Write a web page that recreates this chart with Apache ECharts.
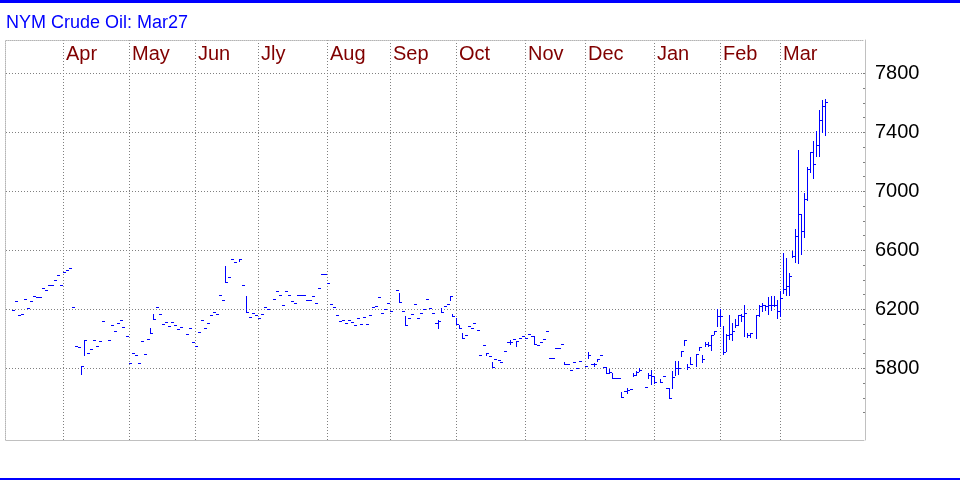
<!DOCTYPE html>
<html><head><meta charset="utf-8">
<script src="https://cdn.jsdelivr.net/npm/echarts@6.0.0/dist/echarts.min.js"></script>
<style>html,body{margin:0;padding:0;background:#fff;}#chart{width:960px;height:480px;}</style>
</head><body><div id="chart"></div>
<script>
const TITLE = 'NYM Crude Oil: Mar27';
const MONTHS = ['Jan','Feb','Mar','Apr','May','Jun','Jly','Aug','Sep','Oct','Nov','Dec'];
const AXIS_START = '2025-03-04', AXIS_END = '2026-04-08';
const FIRST_BAR = '2025-03-06', LAST_BAR = '2026-03-20';
const HOLIDAYS = ['2025-04-18','2025-05-26','2025-06-19','2025-07-04','2025-09-01','2025-11-27','2025-12-25','2026-01-01','2026-01-19','2026-02-16'];
const gridValues = [5800,6200,6600,7000,7400,7800];
const tickValues = [5500,5600,5700,5800,5900,6000,6100,6200,6300,6400,6500,6600,6700,6800,6900,7000,7100,7200,7300,7400,7500,7600,7700,7800];

const high = [
6193,6254,6159,6166,6268,6207,6254,6288,6281,6281,6342,6329,6363,6363,6397,6431,6363,6451,
6464,6478,6214,5949,5942,5814,5992,5902,5929,5992,5949,5983,6119,5990,6092,6051,6105,6125,6078,6017,5834,
5902,5888,5834,5983,5895,5997,6068,6168,6214,6166,6098,6112,6085,6112,6092,6064,6078,6031,6071,5976,5949,
6044,6125,6071,6105,6159,6180,6166,6295,6261,6494,6417,6539,6519,6539,6363,6290,6146,6173,6159,6139,
6166,6214,6200,6268,6322,6295,6227,6322,6295,6254,6241,6295,6295,6295,6261,6261,6288,6241,6342,6437,6437,6376,
6234,6214,6159,6119,6125,6105,6125,6112,6092,6139,6098,6146,6098,6159,6214,6220,6281,6173,6200,6241,6186,
6328,6308,6186,6152,6139,6166,6234,6139,6173,6200,6268,6206,6173,6105,6123,6206,6220,6234,6288,6166,6139,
6093,6037,6023,6084,6071,6105,6057,5888,5956,5901,5881,5840,5861,5854,5840,5915,5976,5992,5996,5981,6003,6014,6003,
6030,6019,6019,5958,5976,5999,6051,5868,5868,5935,5935,5962,5840,5827,5786,5840,5800,5847,5813,
5908,5827,5834,5861,5888,5806,5806,5790,5766,5732,5732,5637,5644,5664,5658,5766,5780,5800,5671,5766,5789,5745,
5725,5748,5664,5664,5777,5848,5848,5916,5990,5829,5874,5896,5943,5890,5976,5976,6026,6053,6202,6200,
6085,6031,6160,6108,6132,6162,6166,6229,6037,6037,6161,6229,6240,6229,6281,6286,6286,6260,6319,
6579,6545,6444,6591,6744,7280,6844,6986,7162,7262,7336,7404,7551,7619,7626
];
const low = [
6193,6254,6159,6166,6268,6207,6254,6288,6281,6281,6342,6329,6363,6363,6397,6431,6363,6451,
6464,6478,6214,5949,5942,5757,5885,5902,5929,5992,5949,5983,6119,5990,6092,6051,6105,6125,6078,6017,5834,
5902,5888,5834,5983,5895,5997,6034,6132,6214,6166,6098,6112,6085,6112,6092,6064,6078,6031,6071,5976,5949,
6044,6125,6071,6105,6159,6180,6166,6295,6261,6380,6417,6539,6519,6525,6363,6180,6146,6173,6159,6139,
6166,6214,6200,6268,6322,6295,6227,6322,6295,6254,6241,6295,6295,6295,6261,6261,6288,6241,6342,6437,6437,6376,
6234,6214,6159,6119,6125,6105,6125,6112,6092,6139,6098,6146,6098,6159,6214,6220,6281,6173,6200,6241,6186,
6328,6247,6186,6091,6139,6166,6234,6139,6173,6200,6268,6206,6173,6105,6069,6179,6220,6234,6258,6152,6098,
6071,6003,6023,6084,6071,6105,6057,5888,5956,5888,5881,5806,5861,5854,5840,5915,5976,5965,5996,5951,6003,6014,6003,
6030,6019,5963,5958,5976,5999,6051,5868,5868,5935,5935,5962,5827,5827,5786,5840,5800,5847,5813,
5868,5827,5813,5848,5888,5806,5766,5766,5732,5732,5732,5603,5644,5628,5658,5743,5755,5780,5671,5735,5692,5700,
5705,5748,5664,5596,5664,5753,5760,5879,5959,5793,5827,5810,5925,5838,5946,5946,5924,6030,6082,6085,
5896,5914,5995,5991,6078,6090,6116,6015,6008,6010,6003,6150,6184,6195,6166,6195,6218,6139,6150,
6308,6297,6297,6552,6516,6512,6575,6688,6941,7126,7088,7235,7235,7398,7377
];
const close = [
6193,6254,6159,6166,6268,6207,6254,6288,6281,6281,6342,6329,6363,6363,6397,6431,6363,6451,
6464,6478,6214,5949,5942,5814,5992,5902,5929,5992,5949,5983,6119,5990,6092,6051,6105,6125,6078,6017,5834,
5902,5888,5834,5983,5895,5997,6034,6132,6214,6166,6098,6112,6085,6112,6092,6064,6078,6031,6071,5976,5949,
6044,6125,6071,6105,6159,6180,6166,6295,6261,6380,6417,6539,6519,6539,6363,6180,6146,6173,6159,6139,
6166,6214,6200,6268,6322,6295,6227,6322,6295,6254,6241,6295,6295,6295,6261,6261,6288,6241,6342,6437,6437,6376,
6234,6214,6159,6119,6125,6105,6125,6112,6092,6139,6098,6146,6098,6159,6214,6220,6281,6173,6200,6241,6186,
6328,6247,6186,6091,6139,6166,6234,6139,6173,6200,6268,6206,6173,6105,6118,6179,6220,6234,6288,6152,6098,
6071,6003,6023,6084,6071,6105,6057,5888,5956,5901,5881,5806,5861,5854,5840,5915,5976,5976,5996,5981,6003,6014,6003,
6030,6019,5963,5958,5976,5999,6051,5868,5868,5935,5935,5962,5827,5827,5786,5840,5800,5847,5813,
5888,5827,5827,5861,5888,5806,5766,5775,5732,5732,5732,5603,5644,5650,5658,5750,5773,5786,5671,5750,5745,5705,
5705,5748,5664,5596,5738,5800,5800,5916,5990,5805,5827,5896,5943,5862,5960,5955,6026,6053,6154,6154,
5907,6025,6030,6048,6090,6158,6150,6173,6021,6035,6161,6222,6225,6222,6224,6229,6229,6184,6274,
6335,6358,6426,6557,6697,6844,6726,6946,7149,7262,7183,7312,7483,7578,7603
];

function iso(d){ return d.toISOString().slice(0,10); }
function weekdays(a, b){
  const out = []; let d = new Date(a + 'T00:00:00Z'); const e = new Date(b + 'T00:00:00Z');
  while (d <= e) { const w = d.getUTCDay(); if (w !== 0 && w !== 6) out.push(iso(d)); d = new Date(d.getTime() + 86400000); }
  return out;
}
const categories = weekdays(AXIS_START, AXIS_END);
const N = categories.length;
const tradeDays = weekdays(FIRST_BAR, LAST_BAR).filter(d => HOLIDAYS.indexOf(d) < 0);
const catIndex = {}; categories.forEach((d, i) => { catIndex[d] = i; });
const bars = tradeDays.map((d, i) => [catIndex[d], high[i], low[i], close[i]]);

function isMonthStart(i){ return i > 0 && categories[i].slice(0,7) !== categories[i-1].slice(0,7) && categories[i] <= LAST_BAR; }
function isMonthEnd(i){ return i < N - 1 && categories[i+1].slice(0,7) !== categories[i].slice(0,7) && categories[i+1] <= LAST_BAR; }

const FONT = '"Liberation Sans", Arial, sans-serif';
const BLUE = '#0000ff';

function renderItem(params, api){
  const k = api.value(0);
  const pH = api.coord([k, api.value(1)]);
  const pL = api.coord([k, api.value(2)]);
  const pC = api.coord([k, api.value(3)]);
  const x = Math.floor(pH[0]);
  const yTop = Math.floor(pH[1]);
  const yBot = Math.floor(pL[1]) + 1;
  const yC = Math.floor(pC[1]);
  return { type: 'group', children: [
    { type: 'rect', shape: { x: x, y: yTop, width: 1, height: Math.max(1, yBot - yTop) }, style: { fill: BLUE } },
    { type: 'rect', shape: { x: x + 1, y: yC, width: 2, height: 1 }, style: { fill: BLUE } }
  ]};
}

const chart = echarts.init(document.getElementById('chart'), null, { renderer: 'canvas' });
chart.setOption({
  animation: false,
  backgroundColor: '#ffffff',
  title: { text: TITLE, left: 6, top: 14, padding: 0, textStyle: { color: BLUE, fontSize: 18, fontWeight: 'normal', fontFamily: FONT } },
  grid: { left: 6, right: 96, top: 40, bottom: 40, containLabel: false },
  xAxis: [
    { type: 'category', data: categories, position: 'top', boundaryGap: false,
      axisLine: { show: true, lineStyle: { color: '#b4b4b4', type: [1, 1], width: 1 } },
      axisTick: { show: false },
      axisLabel: { show: true, inside: true, interval: (i) => isMonthStart(i), align: 'left',
        formatter: (v) => MONTHS[+v.slice(5,7) - 1], color: '#800000', fontSize: 20, fontFamily: FONT, margin: 4 },
      splitLine: { show: true, interval: (i) => isMonthEnd(i), lineStyle: { color: '#808080', type: [1, 2], width: 1 } }
    },
    { type: 'category', data: categories, position: 'bottom', boundaryGap: false,
      axisLine: { show: true, lineStyle: { color: '#c0c0c0', width: 1 } },
      axisTick: { show: false }, axisLabel: { show: false }, splitLine: { show: false } }
  ],
  yAxis: [
    { type: 'value', position: 'right', min: 5315, max: 8027, offset: 1,
      axisLine: { show: true, lineStyle: { color: '#c0c0c0', width: 1 } },
      axisTick: { show: true, inside: true, length: 2, customValues: tickValues, lineStyle: { color: '#808080' } },
      axisLabel: { show: true, customValues: gridValues, formatter: (v) => String(v), color: '#000000', fontSize: 20, margin: 10, fontFamily: FONT },
      splitLine: { show: false } },
    { type: 'value', position: 'left', min: 5315, max: 8027, offset: 1,
      axisLine: { show: true, lineStyle: { color: '#b4b4b4', type: [1, 1], width: 1 } },
      axisTick: { show: false }, axisLabel: { show: false }, splitLine: { show: false } }
  ],
  series: [
    { type: 'line', data: [], xAxisIndex: 0, yAxisIndex: 0, z: 1, silent: true,
      markLine: { silent: true, symbol: 'none', label: { show: false },
        lineStyle: { color: '#808080', type: [1, 2], width: 1 },
        data: gridValues.map(v => ({ yAxis: v })) } },
    { type: 'custom', name: 'NYM Crude Oil', renderItem: renderItem, data: bars,
      dimensions: ['day', 'high', 'low', 'close'],
      xAxisIndex: 0, yAxisIndex: 0, encode: { x: 0, y: [1, 2, 3] }, z: 5 }
  ],
  graphic: [
    { type: 'rect', shape: { x: 0, y: 0, width: 960, height: 3 }, style: { fill: BLUE }, silent: true },
    { type: 'rect', shape: { x: 0, y: 478, width: 960, height: 2 }, style: { fill: BLUE }, silent: true }
  ]
});
</script>
</body></html>
